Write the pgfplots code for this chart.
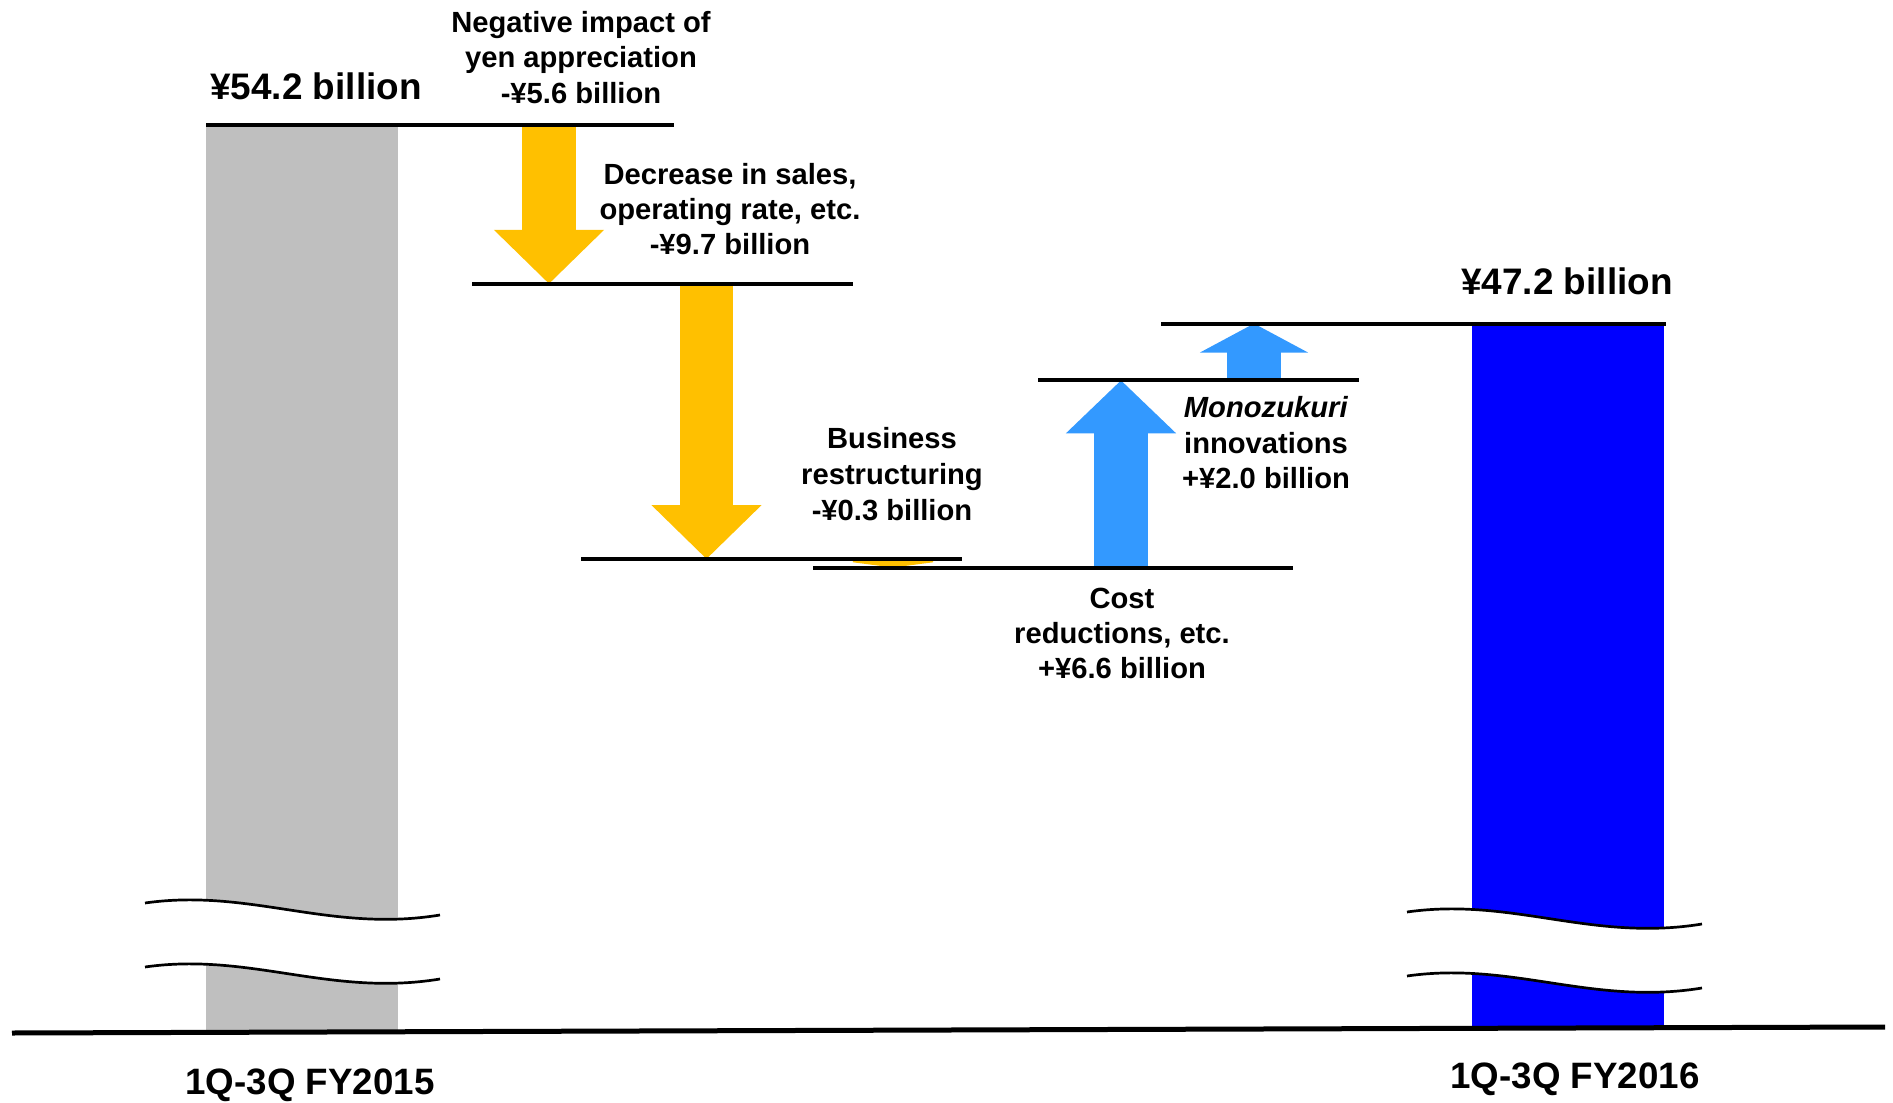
\documentclass[border=0pt]{standalone}
\usepackage{fontspec}
\setmainfont{Liberation Sans}
\usepackage{pgfplots}
\pgfplotsset{compat=1.18}
\usetikzlibrary{arrows.meta}

\definecolor{barGray}{HTML}{BFBFBF}
\definecolor{barBlue}{HTML}{0000FF}
\definecolor{downArr}{HTML}{FFC000}
\definecolor{upArr}{HTML}{3399FF}

\tikzset{
  lab/.style={font=\fontsize{8.3}{10}\selectfont\bfseries, anchor=base, inner sep=0pt},
  big/.style={font=\fontsize{10.5}{12}\selectfont\bfseries, anchor=base, inner sep=0pt},
  level/.style={black, line width=0.4mm},
  arr/.style={line width=5.35mm, -{Triangle[width=10.7mm, length=#1]}},
  brk/.style={black, line width=0.27mm},
}

\begin{document}
\begin{tikzpicture}
\begin{axis}[
    name=ax,
    scale only axis,
    width=189.3mm, height=110.2mm,
    xmin=0, xmax=1893,
    ymin=19.761, ymax=58.605,
    hide axis,
    clip=false,
    no marks,
]

% bars (start and end levels)
\addplot[draw=none, fill=barGray] coordinates {(206,22.228) (206,54.2) (398,54.2) (398,22.228)};
\addplot[draw=none, fill=barBlue] coordinates {(1472,22.405) (1472,47.2) (1664,47.2) (1664,22.405)};

% changes
\addplot[downArr, arr=5.4mm] coordinates {(549,54.2) (549,48.6)};
\addplot[downArr, arr=5.4mm] coordinates {(706.5,48.6) (706.5,38.9)};
\addplot[downArr, arr=0.7mm] coordinates {(893,38.9) (893,38.6)};
\addplot[upArr, arr=5.3mm] coordinates {(1121,38.6) (1121,45.2)};
\addplot[upArr, arr=2.9mm] coordinates {(1254,45.2) (1254,47.2)};

% level lines
\addplot[level] coordinates {(206,54.2) (674,54.2)};
\addplot[level] coordinates {(472,48.6) (853,48.6)};
\addplot[level] coordinates {(581,38.9) (962,38.9)};
\addplot[level] coordinates {(813,38.6) (1293,38.6)};
\addplot[level] coordinates {(1038,45.2) (1359,45.2)};
\addplot[level] coordinates {(1161,47.2) (1666,47.2)};

% labels
\node[big, yshift=2.5mm] at (axis cs:316,54.2) {¥54.2 billion};
\node[big, yshift=2.9mm] at (axis cs:1567,47.2) {¥47.2 billion};

\node[lab, yshift=9.2mm] at (axis cs:581,54.2) {Negative impact of};
\node[lab, yshift=5.7mm] at (axis cs:581,54.2) {yen appreciation};
\node[lab, yshift=2.1mm] at (axis cs:581,54.2) {-¥5.6 billion};

\node[lab, yshift=9.9mm] at (axis cs:730,48.6) {Decrease in sales,};
\node[lab, yshift=6.4mm] at (axis cs:730,48.6) {operating rate, etc.};
\node[lab, yshift=2.9mm] at (axis cs:730,48.6) {-¥9.7 billion};

\node[lab, yshift=11.1mm] at (axis cs:892,38.9) {Business};
\node[lab, yshift=7.5mm] at (axis cs:892,38.9) {restructuring};
\node[lab, yshift=3.9mm] at (axis cs:892,38.9) {-¥0.3 billion};

\node[lab, yshift=-4.1mm] at (axis cs:1122,38.6) {Cost};
\node[lab, yshift=-7.6mm] at (axis cs:1122,38.6) {reductions, etc.};
\node[lab, yshift=-11.1mm] at (axis cs:1122,38.6) {+¥6.6 billion};

\node[lab, yshift=-3.7mm] at (axis cs:1266,45.2) {\textit{Monozukuri}};
\node[lab, yshift=-7.3mm] at (axis cs:1266,45.2) {innovations};
\node[lab, yshift=-10.8mm] at (axis cs:1266,45.2) {+¥2.0 billion};
\end{axis}

% axis breaks, base line and category names, in pixel units from the top left
\begin{scope}[shift={(ax.north west)}, x=0.1mm, y=-0.1mm]
  \fill[white] (145,903) .. controls (250,888) and (330,933) .. (440,915)
    -- (440,979) .. controls (330,997) and (250,952) .. (145,967) -- cycle;
  \draw[brk] (145,903) .. controls (250,888) and (330,933) .. (440,915);
  \draw[brk] (145,967) .. controls (250,952) and (330,997) .. (440,979);

  \fill[white] (1407,912) .. controls (1512,897) and (1592,942) .. (1702,924)
    -- (1702,988) .. controls (1592,1006) and (1512,961) .. (1407,976) -- cycle;
  \draw[brk] (1407,912) .. controls (1512,897) and (1592,942) .. (1702,924);
  \draw[brk] (1407,976) .. controls (1512,961) and (1592,1006) .. (1702,988);

  \draw[black, line width=0.5mm] (12,1033) -- (1885,1027);

  \node[big, font=\fontsize{10.45}{12}\selectfont\bfseries] at (310,1094) {1Q-3Q FY2015};
  \node[big, font=\fontsize{10.45}{12}\selectfont\bfseries] at (1575,1088) {1Q-3Q FY2016};
\end{scope}

\pgfresetboundingbox
\path[use as bounding box] (ax.south west) rectangle (ax.north east);
\end{tikzpicture}
\end{document}
